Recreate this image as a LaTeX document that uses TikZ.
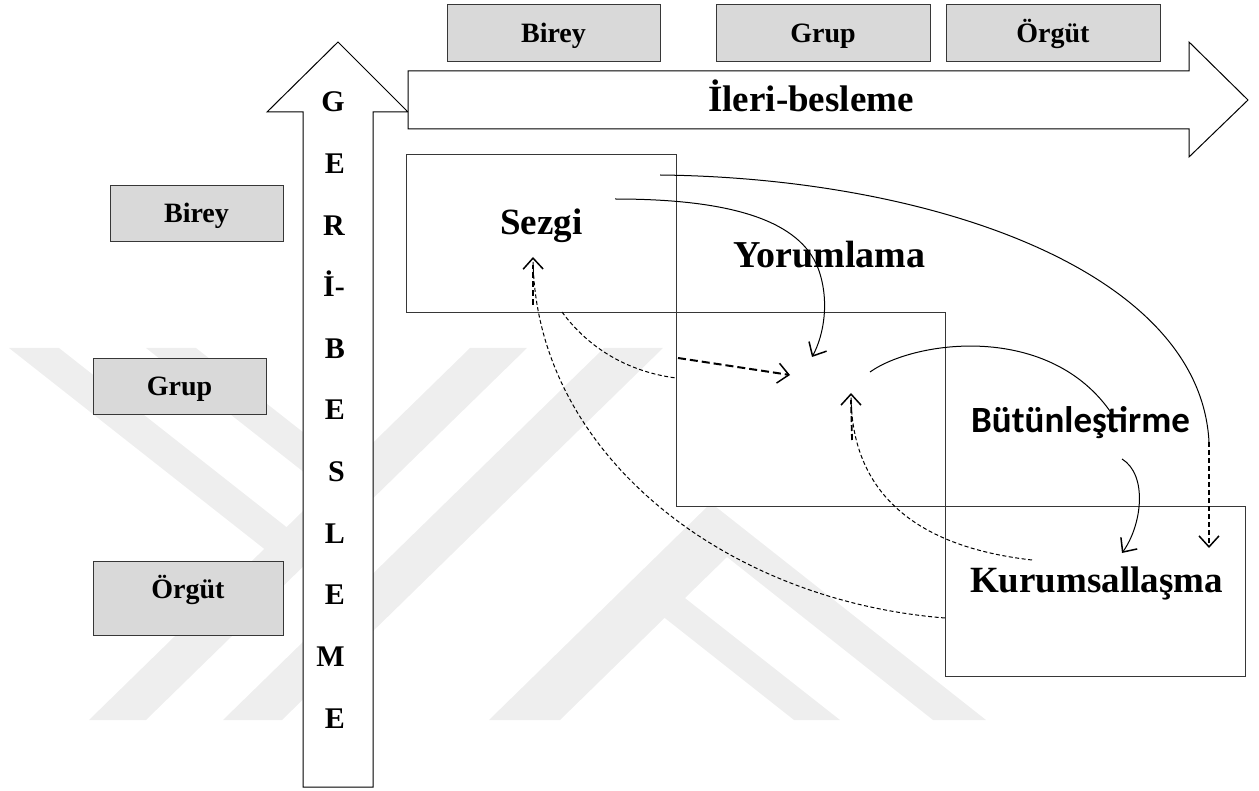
\documentclass[tikz,border=0pt]{standalone}
\usepackage{fontspec}
\setmainfont{Liberation Serif}
\newfontfamily\labelsans{Carlito}
\usetikzlibrary{arrows.meta}
\definecolor{levelgray}{RGB}{217,217,217}
\definecolor{edgegray}{RGB}{55,55,55}
\definecolor{markgray}{RGB}{238,238,238}

\tikzset{
  levelbox/.style={draw=edgegray, fill=levelgray, line width=1pt, inner sep=0pt,
    font=\fontsize{28}{30}\selectfont\bfseries, text height=20pt, text depth=2pt},
  stagebox/.style={draw=edgegray, fill=white, line width=0.9pt, inner sep=0pt},
  stagelabel/.style={font=\fontsize{37}{40}\selectfont\bfseries, inner sep=0pt, anchor=base west},
  bigarrow/.style={draw=black, fill=white, line width=1pt, line join=miter},
  letter/.style={font=\fontsize{30}{32}\selectfont\bfseries, inner sep=0pt, anchor=base east},
  flow/.style={line width=1pt},
  back/.style={line width=1pt, dash pattern=on 4pt off 2.5pt},
  tip/.style={-{Straight Barb[length=11pt,width=20pt,line width=1.5pt]}},
  wmark/.style={fill=markgray, draw=none},
}

\begin{document}
\begin{tikzpicture}[x=1pt,y=-1pt]
\useasboundingbox (0,0) rectangle (1259,791);

% faint background emblem made of diagonal bands
\begin{scope}
  \clip (0,348) rectangle (1259,720);
  \fill[wmark] (89,720) -- (146,720) -- (527,348) -- (470,348) -- cycle;
  \fill[wmark] (223,720) -- (282,720) -- (663,348) -- (604,348) -- cycle;
  \fill[wmark] (9,348) -- (59,348) -- (294,533) -- (272,555) -- cycle;
  \fill[wmark] (146,348) -- (196,348) -- (360,477) -- (338,499) -- cycle;
  \fill[wmark] (489,720) -- (711,503) -- (986,720) -- (933,720) -- (727,557) -- (560,720) -- cycle;
  \fill[wmark] (642,600) -- (662,580) -- (840,720) -- (794,720) -- cycle;
\end{scope}

% level boxes
\node[levelbox, minimum width=213pt, minimum height=57pt] (topbirey) at (553.5,33.5) {Birey};
\node[levelbox, minimum width=214pt, minimum height=57pt] (topgrup) at (823,33.5) {Grup};
\node[levelbox, minimum width=214pt, minimum height=57pt] (toporgut) at (1053,33.5) {Örgüt};
\node[levelbox, minimum width=173pt, minimum height=56pt] (leftbirey) at (196.5,214) {Birey};
\node[levelbox, minimum width=173pt, minimum height=56pt] (leftgrup) at (179.5,387) {Grup};
\node[levelbox, minimum width=190pt, minimum height=74pt, text height=11pt, text depth=11pt] (leftorgut) at (188,598) {Örgüt};

% feedback arrow (upwards) and feed-forward arrow (rightwards)
\draw[bigarrow] (303,787) -- (303,112) -- (267,112) -- (338,42) -- (408,112) -- (373,112) -- (373,787) -- cycle;
\draw[bigarrow] (408,71) -- (1189,71) -- (1189,42) -- (1248,100) -- (1189,157) -- (1189,129) -- (408,129) -- cycle;
\node[stagelabel] (ileri) at (708,112) {İleri-besleme};
\foreach \ch [count=\i from 0] in {G,E,R,İ-,B,E,S,L,E,M,E}
  \node[letter] (gb\i) at (345,{112+61.6*\i}) {\ch};

% stage boxes
\node[stagebox, minimum width=270pt, minimum height=158pt] (sezgibox) at (541,233) {};
\node[stagebox, minimum width=269pt, minimum height=194pt] (yorumbox) at (810.5,409) {};
\node[stagebox, minimum width=300pt, minimum height=170pt] (kurumbox) at (1095,591) {};

\node[stagelabel] (sezgi) at (500,235) {Sezgi};
\node[stagelabel, font=\fontsize{38}{40}\selectfont\bfseries] (yorum) at (733,268) {Yorumlama};
\node[stagelabel, font=\labelsans\fontsize{37}{39}\selectfont\bfseries] (butun) at (971,433) {Bütünleştirme};
\node[stagelabel] (kurum) at (970,592) {Kurumsallaşma};

% connector end points
\coordinate (s1) at (615,199);  \coordinate (y1) at (812,357);
\coordinate (s2) at (660,175);  \coordinate (k2) at (1209,442); \coordinate (k2t) at (1209,548);
\coordinate (s3) at (562,312);  \coordinate (m3) at (676,378);
\coordinate (m3a) at (678,358); \coordinate (m3b) at (790,375);
\coordinate (m4) at (870,372);  \coordinate (b4) at (1112,414);
\coordinate (b5) at (1122,459); \coordinate (k5) at (1122,553);
\coordinate (k6) at (1032,560); \coordinate (m6) at (851,393);
\coordinate (k7) at (945,618);  \coordinate (s7) at (533,257);

% feed-forward flows
\draw[flow,tip] (s1) .. controls (735,199) and (800,222) .. (818,268) .. controls (830,300) and (824,335) .. (y1);
\draw[flow] (s2) .. controls (930,178) and (1200,270) .. (k2);
\draw[back, line width=1.3pt, dash pattern=on 5pt off 3pt, tip] (k2) -- (k2t);
\draw[back] (s3) .. controls (590,350) and (630,372) .. (m3);
\draw[back, line width=2pt, dash pattern=on 8pt off 4pt, tip] (m3a) -- (m3b);
\draw[flow] (m4) .. controls (915,340) and (1050,322) .. (b4);
\draw[flow,tip] (b5) .. controls (1148,475) and (1142,525) .. (k5);

% feedback flows
\draw[back,tip] (k6) .. controls (900,545) and (851,480) .. (m6);
\draw[back, line width=1.8pt, dash pattern=on 6pt off 3pt] (852,440) -- (851,400);
\draw[back,tip] (k7) .. controls (720,600) and (535,450) .. (s7);
\draw[back, line width=1.8pt, dash pattern=on 6pt off 3pt] (533,305) -- (533,265);
\end{tikzpicture}
\end{document}
